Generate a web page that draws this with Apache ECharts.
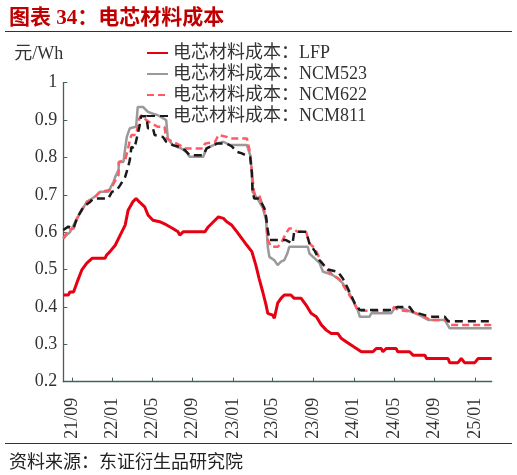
<!DOCTYPE html>
<html lang="zh">
<head>
<meta charset="UTF-8">
<title>电芯材料成本</title>
<script src="https://cdn.jsdelivr.net/npm/echarts@6.0.0/dist/echarts.min.js"></script>
<style>
  html, body { margin: 0; padding: 0; background: #fff; }
  #chart { width: 517px; height: 475px; }
</style>
</head>
<body>
<div id="chart"></div>
<script>
// 数据（元/Wh），按读图得到的拐点
var lfp = [
  ['2021-08-06',0.432],['2021-08-21',0.432],['2021-08-26',0.44],['2021-09-06',0.44],
  ['2021-09-17',0.467],['2021-10-01',0.499],['2021-10-16',0.517],['2021-11-01',0.53],
  ['2021-12-10',0.53],['2021-12-15',0.539],['2021-12-25',0.548],['2022-01-10',0.565],
  ['2022-01-25',0.592],['2022-02-09',0.619],['2022-02-18',0.659],['2022-03-04',0.681],
  ['2022-03-14',0.69],['2022-03-24',0.681],['2022-04-09',0.668],['2022-04-19',0.646],
  ['2022-05-04',0.632],['2022-05-24',0.628],['2022-06-13',0.62],['2022-07-03',0.61],
  ['2022-07-19',0.601],['2022-07-24',0.592],['2022-08-03',0.601],['2022-10-08',0.601],
  ['2022-10-18',0.614],['2022-11-03',0.628],['2022-11-18',0.641],['2022-12-03',0.637],
  ['2022-12-13',0.628],['2022-12-28',0.619],['2023-01-13',0.601],['2023-01-28',0.583],
  ['2023-02-12',0.565],['2023-02-27',0.548],['2023-03-11',0.512],['2023-03-21',0.476],
  ['2023-04-01',0.44],['2023-04-11',0.405],['2023-04-16',0.383],['2023-05-01',0.378],
  ['2023-05-06',0.37],['2023-05-16',0.41],['2023-05-26',0.423],['2023-06-05',0.432],
  ['2023-06-25',0.432],['2023-07-05',0.423],['2023-07-26',0.423],['2023-08-10',0.405],
  ['2023-08-25',0.383],['2023-09-10',0.374],['2023-09-25',0.352],['2023-10-10',0.338],
  ['2023-10-25',0.329],['2023-11-14',0.329],['2023-11-24',0.316],['2023-12-09',0.307],
  ['2023-12-24',0.298],['2024-01-09',0.289],['2024-01-24',0.28],['2024-02-28',0.28],
  ['2024-03-09',0.289],['2024-03-24',0.289],['2024-03-29',0.28],['2024-04-08',0.289],
  ['2024-05-08',0.289],['2024-05-13',0.28],['2024-06-18',0.28],['2024-06-28',0.271],
  ['2024-08-03',0.271],['2024-08-08',0.262],['2024-10-12',0.262],['2024-10-17',0.251],
  ['2024-11-11',0.251],['2024-11-21',0.262],['2024-12-01',0.251],['2025-01-01',0.251],
  ['2025-01-11',0.262],['2025-02-21',0.262]
];
var ncm523 = [
  ['2021-08-06',0.583],['2021-08-16',0.592],['2021-08-26',0.60],['2021-09-01',0.61],
  ['2021-09-06',0.61],['2021-09-16',0.637],['2021-10-01',0.659],['2021-10-16',0.681],
  ['2021-11-01',0.69],['2021-11-15',0.699],['2021-11-25',0.708],['2021-12-20',0.708],
  ['2021-12-25',0.713],['2022-01-05',0.735],['2022-01-10',0.748],['2022-01-20',0.766],
  ['2022-01-21',0.788],['2022-02-04',0.788],['2022-02-09',0.824],['2022-02-14',0.855],
  ['2022-02-23',0.878],['2022-03-14',0.882],['2022-03-19',0.935],['2022-04-04',0.935],
  ['2022-04-09',0.931],['2022-04-19',0.922],['2022-05-04',0.917],['2022-05-19',0.913],
  ['2022-06-03',0.905],['2022-06-13',0.90],['2022-06-18',0.851],['2022-07-03',0.833],
  ['2022-07-29',0.824],['2022-08-13',0.815],['2022-08-23',0.802],['2022-10-03',0.802],
  ['2022-10-13',0.824],['2022-11-13',0.837],['2022-12-03',0.842],['2022-12-23',0.833],
  ['2023-02-12',0.833],['2023-02-22',0.806],['2023-02-27',0.761],['2023-03-01',0.708],
  ['2023-03-16',0.69],['2023-04-01',0.665],['2023-04-11',0.632],['2023-04-16',0.561],
  ['2023-04-21',0.534],['2023-05-06',0.525],['2023-05-16',0.512],['2023-05-26',0.521],
  ['2023-06-05',0.525],['2023-06-15',0.545],['2023-06-20',0.561],['2023-08-15',0.561],
  ['2023-08-20',0.543],['2023-09-05',0.53],['2023-09-20',0.517],['2023-09-30',0.494],
  ['2023-10-15',0.49],['2023-10-30',0.485],['2023-11-14',0.476],['2023-11-29',0.463],
  ['2023-12-14',0.445],['2023-12-29',0.418],['2024-01-14',0.39],['2024-01-19',0.374],
  ['2024-02-18',0.374],['2024-02-23',0.383],['2024-04-23',0.383],['2024-05-03',0.396],
  ['2024-05-13',0.40],['2024-05-28',0.396],['2024-06-23',0.387],['2024-07-18',0.378],
  ['2024-08-13',0.365],['2024-10-02',0.365],['2024-10-17',0.343],['2025-02-21',0.343]
];
var ncm622 = [
  ['2021-08-06',0.583],['2021-08-21',0.606],['2021-09-06',0.61],['2021-09-16',0.635],
  ['2021-10-01',0.659],['2021-10-16',0.681],['2021-11-05',0.69],['2021-11-25',0.708],
  ['2021-12-25',0.713],['2022-01-05',0.73],['2022-01-20',0.753],['2022-01-21',0.788],
  ['2022-02-09',0.793],['2022-02-18',0.824],['2022-02-23',0.846],['2022-02-28',0.86],
  ['2022-03-14',0.86],['2022-03-24',0.904],['2022-03-29',0.913],['2022-04-14',0.90],
  ['2022-04-29',0.891],['2022-05-19',0.882],['2022-06-08',0.882],['2022-06-13',0.851],
  ['2022-07-03',0.842],['2022-07-24',0.833],['2022-08-08',0.824],['2022-10-03',0.824],
  ['2022-10-08',0.837],['2022-11-08',0.842],['2022-11-18',0.86],['2022-12-13',0.855],
  ['2022-12-23',0.851],['2023-02-12',0.851],['2023-02-22',0.811],['2023-02-27',0.761],
  ['2023-03-06',0.704],['2023-03-21',0.699],['2023-04-01',0.67],['2023-04-11',0.64],
  ['2023-04-16',0.579],['2023-04-26',0.561],['2023-05-16',0.561],['2023-05-26',0.57],
  ['2023-06-10',0.597],['2023-06-20',0.61],['2023-06-30',0.61],['2023-07-15',0.601],
  ['2023-08-10',0.601],['2023-08-20',0.57],['2023-08-31',0.561],['2023-09-10',0.548],
  ['2023-09-25',0.521],['2023-10-10',0.503],['2023-10-30',0.485],['2023-11-19',0.474],
  ['2023-12-09',0.445],['2023-12-29',0.418],['2024-01-14',0.39],['2024-04-23',0.39],
  ['2024-05-03',0.40],['2024-05-13',0.392],['2024-06-28',0.387],['2024-08-03',0.374],
  ['2024-08-18',0.365],['2024-10-12',0.365],['2024-10-17',0.352],['2025-02-16',0.352],
  ['2025-02-21',0.345]
];
var ncm811 = [
  ['2021-08-06',0.606],['2021-08-21',0.615],['2021-09-06',0.61],['2021-09-16',0.637],
  ['2021-10-06',0.668],['2021-10-26',0.681],['2021-11-05',0.69],['2021-12-20',0.69],
  ['2021-12-31',0.708],['2022-01-15',0.713],['2022-01-25',0.726],['2022-02-09',0.748],
  ['2022-02-18',0.775],['2022-02-23',0.793],['2022-02-28',0.828],['2022-03-09',0.824],
  ['2022-03-24',0.882],['2022-03-29',0.91],['2022-04-14',0.91],['2022-04-19',0.878],
  ['2022-05-04',0.878],['2022-05-09',0.86],['2022-06-03',0.855],['2022-06-13',0.842],
  ['2022-07-03',0.833],['2022-07-24',0.828],['2022-08-08',0.82],['2022-08-23',0.806],
  ['2022-10-03',0.806],['2022-10-13',0.824],['2022-11-13',0.837],['2022-12-13',0.837],
  ['2022-12-28',0.83],['2023-01-13',0.815],['2023-01-28',0.811],['2023-02-22',0.80],
  ['2023-02-27',0.761],['2023-03-01',0.71],['2023-03-06',0.69],['2023-03-21',0.69],
  ['2023-04-06',0.664],['2023-04-11',0.641],['2023-04-16',0.606],['2023-04-21',0.579],
  ['2023-06-10',0.579],['2023-06-30',0.57],['2023-07-05',0.601],['2023-08-10',0.601],
  ['2023-08-20',0.57],['2023-09-05',0.55],['2023-09-20',0.524],['2023-10-15',0.50],
  ['2023-11-14',0.494],['2023-11-29',0.476],['2023-12-14',0.45],['2024-01-04',0.41],
  ['2024-01-19',0.392],['2024-04-23',0.392],['2024-05-13',0.40],['2024-06-18',0.40],
  ['2024-06-28',0.387],['2024-08-18',0.374],['2024-10-02',0.374],['2024-10-12',0.362],
  ['2025-02-21',0.362]
];
var seriesNames = ['电芯材料成本：LFP', '电芯材料成本：NCM523', '电芯材料成本：NCM622', '电芯材料成本：NCM811'];
var xTicks = ['2021-09-01','2022-01-01','2022-05-01','2022-09-01','2023-01-01','2023-05-01',
  '2023-09-01','2024-01-01','2024-05-01','2024-09-01','2025-01-01'];
var xRange = ['2021-08-06', '2025-02-21'];

function toTime(s) {
  var p = s.split('-');
  return new Date(+p[0], p[1] - 1, +p[2]).getTime();
}
function pad(n) { return n < 10 ? '0' + n : '' + n; }
function toPoints(arr) {
  return arr.map(function (d) { return [toTime(d[0]), d[1]]; });
}

var serif = "'Liberation Serif', 'Noto Sans CJK SC', serif";
var axisColor = '#44615f';
var tickTimes = xTicks.map(toTime);

var chart = echarts.init(document.getElementById('chart'), null, { renderer: 'canvas' });
var option = {
  animation: false,
  title: [{
    text: '图表 34：电芯材料成本',
    left: 4, top: 3,
    textStyle: { color: '#c00000', fontSize: 21, fontWeight: 'bold', fontFamily: serif }
  }, {
    text: '资料来源：东证衍生品研究院',
    left: 4, top: 449,
    textStyle: { color: '#222', fontSize: 18, fontWeight: 'normal', fontFamily: serif }
  }],
  graphic: [
    { type: 'line', shape: { x1: 5, y1: 31.5, x2: 512, y2: 31.5 }, style: { stroke: '#333', lineWidth: 1 } },
    { type: 'line', shape: { x1: 5, y1: 443.5, x2: 512, y2: 443.5 }, style: { stroke: '#333', lineWidth: 1 } }
  ],
  legend: {
    orient: 'vertical',
    left: 141, top: 39,
    itemWidth: 21, itemHeight: 14, itemGap: 3,
    itemStyle: { opacity: 0 },
    textStyle: { fontSize: 18, color: '#333', fontFamily: serif },
    data: seriesNames
  },
  grid: { left: 63.3, top: 82.7, right: 25.3, bottom: 93.3, containLabel: false },
  xAxis: {
    type: 'value',
    min: toTime(xRange[0]),
    max: toTime(xRange[1]),
    axisLine: { show: true, lineStyle: { color: axisColor, width: 1.3 } },
    axisTick: { show: true, inside: true, length: 4, customValues: tickTimes, lineStyle: { color: axisColor } },
    axisLabel: {
      customValues: tickTimes,
      rotate: 90,
      margin: 16,
      hideOverlap: false,
      fontSize: 18,
      color: '#333',
      fontFamily: serif,
      formatter: function (v) {
        var d = new Date(v);
        return String(d.getFullYear()).slice(2) + '/' + pad(d.getMonth() + 1);
      }
    },
    splitLine: { show: false }
  },
  yAxis: {
    type: 'value',
    min: 0.2, max: 1, interval: 0.1,
    name: '元/Wh',
    nameLocation: 'end',
    nameGap: 19,
    nameTextStyle: { fontSize: 18, color: '#333', fontFamily: serif, align: 'right' },
    axisLine: { show: true, lineStyle: { color: axisColor, width: 1.3 } },
    axisTick: { show: true, inside: true, length: 4, lineStyle: { color: axisColor } },
    axisLabel: { fontSize: 18, color: '#333', fontFamily: serif, margin: 6 },
    splitLine: { show: false }
  },
  series: [{
    name: seriesNames[0], type: 'line', symbol: 'none', data: toPoints(lfp),
    itemStyle: { color: '#e60012' },
    lineStyle: { color: '#e60012', width: 3 }
  }, {
    name: seriesNames[1], type: 'line', symbol: 'none', data: toPoints(ncm523),
    itemStyle: { color: '#9a9a9a' },
    lineStyle: { color: '#9a9a9a', width: 2.5 }
  }, {
    name: seriesNames[2], type: 'line', symbol: 'none', data: toPoints(ncm622),
    itemStyle: { color: '#ff5a64' },
    lineStyle: { color: '#ff5a64', width: 2.5, type: [7, 4] }
  }, {
    name: seriesNames[3], type: 'line', symbol: 'none', data: toPoints(ncm811),
    itemStyle: { color: '#1a1a1a' },
    lineStyle: { color: '#1a1a1a', width: 2.5, type: [8, 5] }
  }]
};
chart.setOption(option);
</script>
</body>
</html>
